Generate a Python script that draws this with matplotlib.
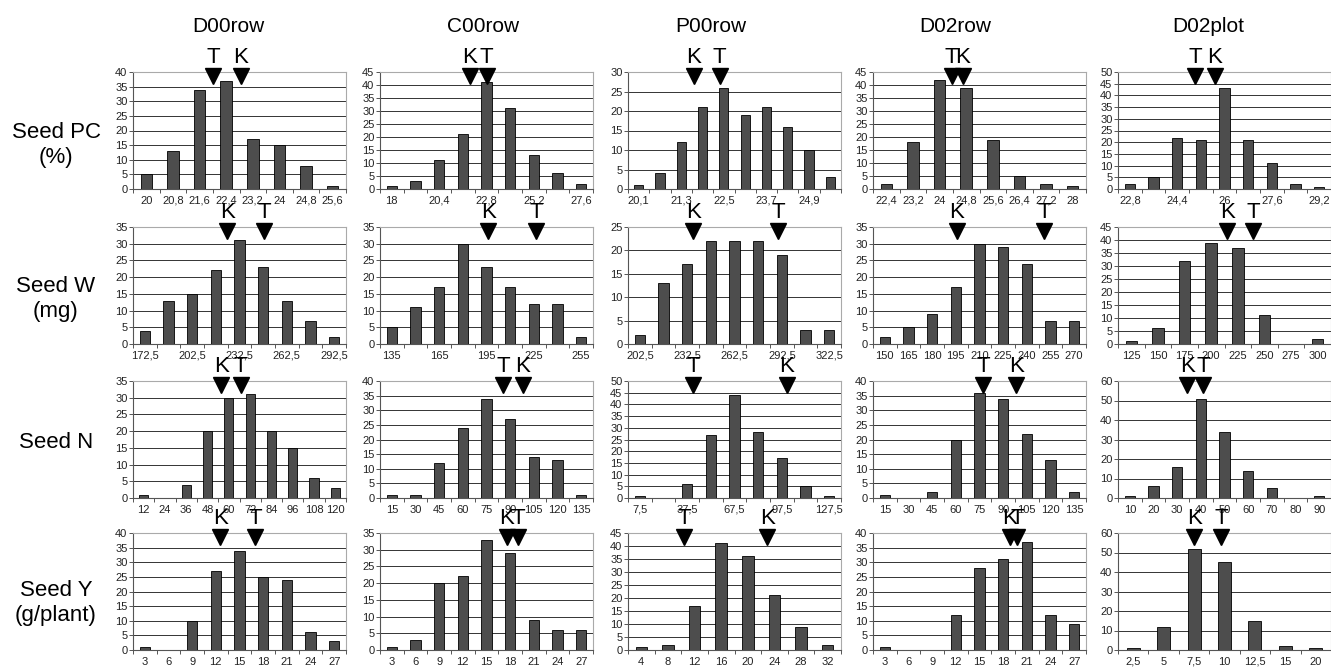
import numpy as np
import matplotlib
matplotlib.use("Agg")
import matplotlib.pyplot as plt
import matplotlib.transforms as mtransforms

plt.rcParams['font.family'] = ['Liberation Sans', 'DejaVu Sans']

columns = ["D00row", "C00row", "P00row", "D02row", "D02plot"]
traits = ["Seed PC\n(%)", "Seed W\n(mg)", "Seed N", "Seed Y\n(g/plant)"]

# Seed PC (%)
pc_labels = [
    ["20", "20,8", "21,6", "22,4", "23,2", "24", "24,8", "25,6"],
    ["18", "", "20,4", "", "22,8", "", "25,2", "", "27,6"],
    ["20,1", "", "21,3", "", "22,5", "", "23,7", "", "24,9", ""],
    ["22,4", "23,2", "24", "24,8", "25,6", "26,4", "27,2", "28"],
    ["22,8", "", "24,4", "", "26", "", "27,6", "", "29,2"],
]
pc_counts = [
    [5, 13, 34, 37, 17, 15, 8, 1],
    [1, 3, 11, 21, 41, 31, 13, 6, 2],
    [1, 4, 12, 21, 26, 19, 21, 16, 10, 3],
    [2, 18, 42, 39, 19, 5, 2, 1],
    [2, 5, 22, 21, 43, 21, 11, 2, 1],
]
pc_ymax = [40, 45, 30, 45, 50]
pc_ystep = [5, 5, 5, 5, 5]
pc_T = [2.5, 4.0, 3.8, 2.45, 2.76]
pc_K = [3.55, 3.3, 2.6, 2.87, 3.58]

# Seed W (mg)
w_labels = [
    ["172,5", "", "202,5", "", "232,5", "", "262,5", "", "292,5"],
    ["135", "", "165", "", "195", "", "225", "", "255"],
    ["202,5", "", "232,5", "", "262,5", "", "292,5", "", "322,5"],
    ["150", "165", "180", "195", "210", "225", "240", "255", "270"],
    ["125", "150", "175", "200", "225", "250", "275", "300"],
]
w_counts = [
    [4, 13, 15, 22, 31, 23, 13, 7, 2],
    [5, 11, 17, 30, 23, 17, 12, 12, 2],
    [2, 13, 17, 22, 22, 22, 19, 3, 3],
    [2, 5, 9, 17, 30, 29, 24, 7, 7],
    [1, 6, 32, 39, 37, 11, 0, 2],
]
w_ymax = [35, 35, 25, 35, 45]
w_ystep = [5, 5, 5, 5, 5]
w_T = [5.04, 6.1, 5.84, 6.72, 4.57]
w_K = [3.49, 4.07, 2.25, 3.03, 3.6]

# Seed N
n_labels = [
    ["12", "24", "36", "48", "60", "72", "84", "96", "108", "120"],
    ["15", "30", "45", "60", "75", "90", "105", "120", "135"],
    ["7,5", "", "37,5", "", "67,5", "", "97,5", "", "127,5"],
    ["15", "30", "45", "60", "75", "90", "105", "120", "135"],
    ["10", "20", "30", "40", "50", "60", "70", "80", "90"],
]
n_counts = [
    [1, 0, 4, 20, 30, 31, 20, 15, 6, 3],
    [1, 1, 12, 24, 34, 27, 14, 13, 1],
    [1, 0, 6, 27, 44, 28, 17, 5, 1],
    [1, 0, 2, 20, 36, 34, 22, 13, 2],
    [1, 6, 16, 51, 34, 14, 5, 0, 1],
]
n_ymax = [35, 40, 50, 40, 60]
n_ystep = [5, 5, 5, 5, 10]
n_T = [4.55, 4.69, 2.26, 4.16, 3.1]
n_K = [3.64, 5.53, 6.21, 5.56, 2.42]

# Seed Y (g/plant)
y_labels = [
    ["3", "6", "9", "12", "15", "18", "21", "24", "27"],
    ["3", "6", "9", "12", "15", "18", "21", "24", "27"],
    ["4", "8", "12", "16", "20", "24", "28", "32"],
    ["3", "6", "9", "12", "15", "18", "21", "24", "27"],
    ["2,5", "5", "7,5", "10", "12,5", "15", "20"],
]
y_counts = [
    [1, 0, 10, 27, 34, 25, 24, 6, 3],
    [1, 3, 20, 22, 33, 29, 9, 6, 6],
    [1, 2, 17, 41, 36, 21, 9, 2],
    [1, 0, 0, 12, 28, 31, 37, 12, 9],
    [1, 12, 52, 45, 15, 2, 1],
]
y_ymax = [40, 35, 45, 40, 60]
y_ystep = [5, 5, 5, 5, 10]
y_T = [4.66, 5.34, 1.62, 5.6, 2.9]
y_K = [3.18, 4.85, 4.73, 5.27, 2.0]

rows = [
    (pc_labels, pc_counts, pc_ymax, pc_ystep, pc_T, pc_K),
    (w_labels, w_counts, w_ymax, w_ystep, w_T, w_K),
    (n_labels, n_counts, n_ymax, n_ystep, n_T, n_K),
    (y_labels, y_counts, y_ymax, y_ystep, y_T, y_K),
]

W, H = 1331, 668
fig = plt.figure(figsize=(W / 100, H / 100), dpi=100)

# panel layout in pixels
col_left = [133, 380, 628, 873, 1118]
col_width = 213
row_top = [72, 227, 381, 533]
row_height = 117
title_x = [228, 483, 711, 955, 1208]
label_shift = [14, 14, 3, 12]


def draw_marker(ax, x, letter):
    trans = mtransforms.blended_transform_factory(ax.transData, ax.transAxes)
    ax.plot([x], [0.962], marker='v', markersize=11, color='black',
            transform=trans, clip_on=False, zorder=5)
    ax.text(x, 1.075, letter, transform=trans, ha='center', va='baseline',
            fontsize=16, color='black', clip_on=False)


def draw_panel(ax, labels, counts, ymax, ystep, t_pos, k_pos):
    n = len(counts)
    x = np.arange(n)
    ax.bar(x, counts, width=0.43, color='#4d4d4d', edgecolor='black',
           linewidth=0.6, zorder=3)
    ax.set_xlim(-0.5, n - 0.5)
    ax.set_ylim(0, ymax)
    ax.set_yticks(np.arange(0, ymax + 1, ystep))
    ax.yaxis.grid(True, color='#333333', linewidth=0.7)
    ax.set_axisbelow(True)
    ax.set_xticks(x)
    ax.set_xticklabels(labels)
    ax.set_xticks(np.arange(-0.5, n, 1), minor=True)
    ax.tick_params(axis='x', which='major', length=0, pad=5,
                   labelsize=8, labelcolor='#222222')
    ax.tick_params(axis='x', which='minor', length=3, width=0.7, color='#555555')
    ax.tick_params(axis='y', length=3, width=0.7, color='#555555', pad=1,
                   labelsize=8, labelcolor='#222222')
    for side in ['left', 'bottom']:
        ax.spines[side].set_color('#555555')
        ax.spines[side].set_linewidth(0.8)
    for side in ['top', 'right']:
        ax.spines[side].set_color('#aaaaaa')
        ax.spines[side].set_linewidth(0.8)
    draw_marker(ax, t_pos, 'T')
    draw_marker(ax, k_pos, 'K')


for r, (labels, counts, ymax, ystep, tpos, kpos) in enumerate(rows):
    for c in range(5):
        rect = [col_left[c] / W, 1 - (row_top[r] + row_height) / H,
                col_width / W, row_height / H]
        ax = fig.add_axes(rect)
        draw_panel(ax, labels[c], counts[c], ymax[c], ystep[c], tpos[c], kpos[c])
    fig.text(56 / W, 1 - (row_top[r] + row_height / 2 + label_shift[r]) / H, traits[r],
             ha='center', va='center', fontsize=16, linespacing=1.25)

for c in range(5):
    fig.text(title_x[c] / W, 1 - 26 / H, columns[c],
             ha='center', va='center', fontsize=15)

fig.savefig("out.png", dpi=100)
